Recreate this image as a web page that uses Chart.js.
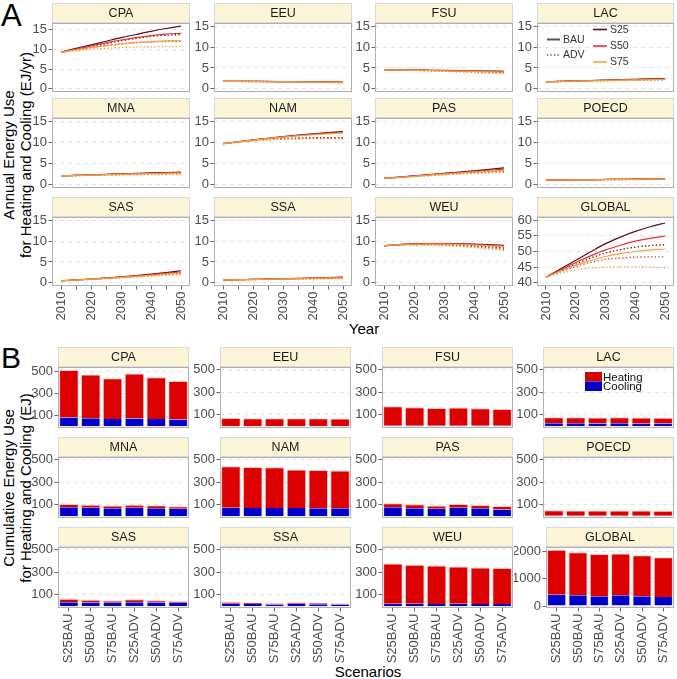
<!DOCTYPE html>
<html><head><meta charset="utf-8">
<script src="https://cdn.jsdelivr.net/npm/chart.js@4.4.0/dist/chart.umd.min.js"></script>
<style>
body{margin:0;background:#fff;width:677px;height:679px;position:relative;overflow:hidden;font-family:"Liberation Sans",Arial,sans-serif;}
canvas{position:absolute;}
.lbl{position:absolute;color:#000;white-space:nowrap;line-height:1;}
.rot{position:absolute;color:#000;white-space:nowrap;text-align:center;font-size:15px;line-height:16.5px;transform:translate(-50%,-50%) rotate(-90deg);}
</style></head><body>
<div class="lbl" style="left:1px;top:0px;font-size:31px;">A</div>
<div class="lbl" style="left:1px;top:343px;font-size:30px;">B</div>
<div class="rot" style="left:16.5px;top:155px;">Annual Energy Use<br>for Heating and Cooling (EJ/yr)</div>
<div class="rot" style="left:16.5px;top:488px;">Cumulative Energy Use<br>for Heating and Cooling (EJ)</div>
<div class="lbl" style="left:364px;top:321px;font-size:15px;transform:translateX(-50%);">Year</div>
<div class="lbl" style="left:368px;top:664px;font-size:15px;transform:translateX(-50%);">Scenarios</div>
<script>
// ---------------- DATA ----------------
const years = [2010, 2015, 2020, 2025, 2030, 2035, 2040, 2045, 2050];
const yearTicks = [2010, 2015, 2020, 2025, 2030, 2035, 2040, 2045, 2050];
const annualTicks = [0, 5, 10, 15];
const annualTicksGlobal = [40, 45, 50, 55, 60];
const scenarios = ['S25BAU', 'S50BAU', 'S75BAU', 'S25ADV', 'S50ADV', 'S75ADV'];
const cumTicks = [100, 300, 500];
const cumTicksGlobal = [0, 1000, 2000];

// Annual energy use (EJ/yr)
const annual_CPA = {
  S25BAU: [9.25, 10.2, 11.1, 12.0, 12.9, 13.7, 14.5, 15.2, 15.8],
  S50BAU: [9.25, 10.0, 10.8, 11.6, 12.3, 12.9, 13.4, 13.8, 14.0],
  S75BAU: [9.25, 9.8, 10.4, 10.9, 11.3, 11.7, 11.9, 12.1, 12.15],
  S25ADV: [9.25, 9.95, 10.7, 11.4, 12.1, 12.7, 13.2, 13.5, 13.7],
  S50ADV: [9.25, 9.8, 10.4, 10.9, 11.3, 11.6, 11.8, 11.95, 12.0],
  S75ADV: [9.25, 9.6, 9.95, 10.2, 10.4, 10.55, 10.6, 10.65, 10.65]
};
const annual_EEU = {
  S25BAU: [1.80, 1.80, 1.79, 1.77, 1.74, 1.71, 1.68, 1.65, 1.62],
  S50BAU: [1.80, 1.79, 1.78, 1.75, 1.72, 1.69, 1.66, 1.62, 1.58],
  S75BAU: [1.80, 1.79, 1.77, 1.74, 1.71, 1.67, 1.63, 1.59, 1.55],
  S25ADV: [1.80, 1.79, 1.77, 1.74, 1.70, 1.66, 1.62, 1.57, 1.53],
  S50ADV: [1.80, 1.78, 1.76, 1.72, 1.68, 1.64, 1.59, 1.54, 1.49],
  S75ADV: [1.80, 1.78, 1.75, 1.71, 1.66, 1.61, 1.56, 1.51, 1.45]
};
const annual_FSU = {
  S25BAU: [4.50, 4.50, 4.48, 4.45, 4.42, 4.38, 4.33, 4.27, 4.20],
  S50BAU: [4.50, 4.49, 4.46, 4.42, 4.37, 4.31, 4.24, 4.17, 4.10],
  S75BAU: [4.50, 4.48, 4.44, 4.39, 4.33, 4.25, 4.17, 4.08, 4.00],
  S25ADV: [4.50, 4.48, 4.44, 4.38, 4.31, 4.23, 4.14, 4.05, 3.95],
  S50ADV: [4.50, 4.47, 4.42, 4.35, 4.26, 4.15, 4.03, 3.91, 3.78],
  S75ADV: [4.50, 4.46, 4.40, 4.31, 4.20, 4.07, 3.92, 3.77, 3.60]
};
const annual_LAC = {
  S25BAU: [1.70, 1.80, 1.90, 2.00, 2.10, 2.19, 2.29, 2.39, 2.48],
  S50BAU: [1.70, 1.79, 1.88, 1.97, 2.06, 2.14, 2.22, 2.30, 2.38],
  S75BAU: [1.70, 1.78, 1.86, 1.94, 2.01, 2.08, 2.15, 2.22, 2.28],
  S25ADV: [1.70, 1.78, 1.86, 1.94, 2.01, 2.08, 2.15, 2.22, 2.29],
  S50ADV: [1.70, 1.77, 1.84, 1.91, 1.97, 2.03, 2.09, 2.15, 2.20],
  S75ADV: [1.70, 1.76, 1.82, 1.88, 1.93, 1.98, 2.03, 2.08, 2.12]
};
const annual_MNA = {
  S25BAU: [2.10, 2.22, 2.34, 2.46, 2.58, 2.69, 2.80, 2.90, 3.00],
  S50BAU: [2.10, 2.21, 2.32, 2.43, 2.53, 2.63, 2.72, 2.81, 2.89],
  S75BAU: [2.10, 2.20, 2.30, 2.39, 2.48, 2.56, 2.63, 2.70, 2.76],
  S25ADV: [2.10, 2.20, 2.29, 2.38, 2.46, 2.54, 2.61, 2.67, 2.72],
  S50ADV: [2.10, 2.19, 2.27, 2.34, 2.41, 2.47, 2.52, 2.56, 2.60],
  S75ADV: [2.10, 2.18, 2.24, 2.29, 2.34, 2.38, 2.41, 2.43, 2.45]
};
const annual_NAM = {
  S25BAU: [9.70, 10.15, 10.58, 10.98, 11.35, 11.70, 12.02, 12.32, 12.60],
  S50BAU: [9.70, 10.14, 10.55, 10.94, 11.30, 11.63, 11.93, 12.20, 12.45],
  S75BAU: [9.70, 10.12, 10.52, 10.89, 11.23, 11.54, 11.80, 12.03, 12.22],
  S25ADV: [9.70, 10.08, 10.42, 10.70, 10.90, 11.02, 11.08, 11.10, 11.10],
  S50ADV: [9.70, 10.06, 10.38, 10.64, 10.82, 10.92, 10.96, 10.97, 10.96],
  S75ADV: [9.70, 10.04, 10.34, 10.58, 10.74, 10.82, 10.84, 10.83, 10.80]
};
const annual_PAS = {
  S25BAU: [1.50, 1.80, 2.10, 2.40, 2.70, 3.00, 3.30, 3.65, 4.00],
  S50BAU: [1.50, 1.78, 2.06, 2.34, 2.62, 2.89, 3.16, 3.43, 3.70],
  S75BAU: [1.50, 1.76, 2.02, 2.28, 2.53, 2.78, 3.02, 3.22, 3.40],
  S25ADV: [1.50, 1.76, 2.02, 2.27, 2.51, 2.74, 2.96, 3.15, 3.32],
  S50ADV: [1.50, 1.74, 1.98, 2.21, 2.43, 2.63, 2.82, 2.98, 3.12],
  S75ADV: [1.50, 1.72, 1.94, 2.15, 2.34, 2.52, 2.67, 2.80, 2.90]
};
const annual_POECD = {
  S25BAU: [1.10, 1.14, 1.18, 1.22, 1.26, 1.30, 1.33, 1.37, 1.40],
  S50BAU: [1.10, 1.14, 1.18, 1.21, 1.25, 1.28, 1.32, 1.35, 1.38],
  S75BAU: [1.10, 1.13, 1.17, 1.20, 1.24, 1.27, 1.30, 1.33, 1.35],
  S25ADV: [1.10, 1.13, 1.17, 1.20, 1.23, 1.26, 1.29, 1.31, 1.33],
  S50ADV: [1.10, 1.13, 1.16, 1.19, 1.22, 1.25, 1.27, 1.29, 1.31],
  S75ADV: [1.10, 1.13, 1.16, 1.19, 1.21, 1.23, 1.25, 1.27, 1.28]
};
const annual_SAS = {
  S25BAU: [0.50, 0.70, 0.92, 1.15, 1.42, 1.72, 2.07, 2.46, 2.90],
  S50BAU: [0.50, 0.69, 0.90, 1.12, 1.36, 1.63, 1.93, 2.25, 2.60],
  S75BAU: [0.50, 0.68, 0.88, 1.09, 1.32, 1.56, 1.82, 2.10, 2.40],
  S25ADV: [0.50, 0.68, 0.88, 1.09, 1.31, 1.55, 1.81, 2.09, 2.40],
  S50ADV: [0.50, 0.67, 0.86, 1.06, 1.27, 1.49, 1.72, 1.96, 2.20],
  S75ADV: [0.50, 0.66, 0.84, 1.03, 1.23, 1.43, 1.63, 1.82, 2.00]
};
const annual_SSA = {
  S25BAU: [0.70, 0.76, 0.83, 0.90, 0.98, 1.06, 1.15, 1.25, 1.35],
  S50BAU: [0.70, 0.76, 0.82, 0.89, 0.96, 1.03, 1.11, 1.19, 1.27],
  S75BAU: [0.70, 0.75, 0.81, 0.87, 0.94, 1.00, 1.07, 1.14, 1.20],
  S25ADV: [0.70, 0.75, 0.81, 0.87, 0.93, 0.99, 1.05, 1.11, 1.17],
  S50ADV: [0.70, 0.75, 0.80, 0.85, 0.90, 0.95, 1.00, 1.05, 1.10],
  S75ADV: [0.70, 0.74, 0.79, 0.83, 0.87, 0.91, 0.95, 0.99, 1.02]
};
const annual_WEU = {
  S25BAU: [8.90, 9.15, 9.30, 9.38, 9.40, 9.36, 9.28, 9.15, 9.00],
  S50BAU: [8.90, 9.13, 9.27, 9.33, 9.33, 9.27, 9.16, 9.00, 8.82],
  S75BAU: [8.90, 9.11, 9.23, 9.28, 9.26, 9.18, 9.05, 8.86, 8.65],
  S25ADV: [8.90, 9.08, 9.17, 9.18, 9.12, 9.00, 8.84, 8.62, 8.35],
  S50ADV: [8.90, 9.06, 9.13, 9.11, 9.02, 8.87, 8.65, 8.38, 8.05],
  S75ADV: [8.90, 9.03, 9.07, 9.02, 8.89, 8.69, 8.43, 8.10, 7.70]
};
const annual_GLOBAL = {
  S25BAU: [41.8, 44.5, 47.2, 49.9, 52.5, 54.6, 56.4, 57.9, 59.1],
  S50BAU: [41.8, 44.2, 46.5, 48.6, 50.5, 52.0, 53.3, 54.2, 54.9],
  S75BAU: [41.8, 43.8, 45.6, 47.1, 48.4, 49.3, 50.0, 50.5, 50.8],
  S25ADV: [41.8, 44.0, 46.0, 47.9, 49.5, 50.6, 51.4, 51.9, 52.2],
  S50ADV: [41.8, 43.6, 45.2, 46.5, 47.5, 47.9, 48.2, 48.3, 48.3],
  S75ADV: [41.8, 43.1, 44.1, 44.7, 45.0, 45.1, 45.1, 45.0, 44.8]
};

// Cumulative energy use (EJ), per scenario: total (heating+cooling) and cooling
const cum_CPA    = { total: [509, 470, 434, 479, 443, 410], cooling: [80, 72, 66, 70, 66, 60] };
const cum_EEU    = { total: [72, 71, 70, 71, 70, 69],       cooling: [1, 1, 1, 1, 1, 1] };
const cum_FSU    = { total: [176, 168, 162, 165, 159, 153], cooling: [3, 3, 3, 3, 3, 3] };
const cum_LAC    = { total: [80, 79, 78, 79, 78, 76],       cooling: [27, 26, 25, 26, 25, 24] };
const cum_MNA    = { total: [108, 101, 95, 102, 96, 88],    cooling: [80, 75, 71, 75, 71, 66] };
const cum_NAM    = { total: [442, 437, 434, 415, 410, 405], cooling: [74, 73, 72, 72, 71, 70] };
const cum_PAS    = { total: [114, 106, 94, 109, 100, 91],   cooling: [80, 71, 66, 74, 71, 60] };
const cum_POECD  = { total: [52, 51, 50, 51, 50, 49],       cooling: [5, 5, 5, 5, 5, 5] };
const cum_SAS    = { total: [66, 58, 50, 61, 53, 46],       cooling: [35, 33, 31, 34, 32, 30] };
const cum_SSA    = { total: [38, 32, 27, 36, 31, 26],       cooling: [22, 19, 16, 21, 18, 15] };
const cum_WEU    = { total: [379, 368, 362, 353, 344, 338], cooling: [22, 21, 20, 21, 20, 19] };
const cum_GLOBAL = { total: [2060, 1975, 1907, 1929, 1857, 1786], cooling: [418, 393, 357, 393, 357, 336] };

// ---------------- STYLE / LAYOUT ----------------
const FONT = '"Liberation Sans", Arial, sans-serif';
Chart.defaults.font.family = FONT;
Chart.defaults.color = '#4d4d4d';
const colors = { S25: '#5e0c1c', S50: '#e0333e', S75: '#f2a33c' };
const HEAT = '#dd0000', COOL = '#0000c8';

const panelPlugin = {
  id: 'panel',
  afterDraw(chart, args, o) {
    const { ctx, chartArea: a } = chart;
    ctx.save();
    const sh = o.stripH;
    ctx.fillStyle = '#fcf4d6';
    ctx.fillRect(a.left, a.top - sh, a.right - a.left, sh);
    ctx.strokeStyle = '#d8d8d8'; ctx.lineWidth = 1;
    ctx.strokeRect(a.left + 0.5, a.top - sh + 0.5, a.right - a.left - 1, sh - 1);
    ctx.fillStyle = '#1a1a1a';
    ctx.font = '12.5px ' + FONT;
    ctx.textAlign = 'center'; ctx.textBaseline = 'middle';
    ctx.fillText(o.title, (a.left + a.right) / 2, a.top - sh / 2 + 1);
    ctx.strokeStyle = '#b0b0b0';
    ctx.strokeRect(a.left + 0.5, a.top + 0.5, a.right - a.left - 1, a.bottom - a.top - 1);
    if (o.legend) { ctx.translate(-o.offX, -o.offY); o.legend(ctx); }
    ctx.restore();
  }
};

function legendLines(ctx) {
  ctx.font = '10.5px ' + FONT; ctx.textAlign = 'left'; ctx.textBaseline = 'middle';
  const line = (x1, x2, y, col, w, dash) => {
    ctx.beginPath(); ctx.setLineDash(dash); ctx.strokeStyle = col; ctx.lineWidth = w;
    ctx.moveTo(x1, y); ctx.lineTo(x2, y); ctx.stroke(); ctx.setLineDash([]);
  };
  line(547, 560, 39.5, '#555', 2, []);
  line(547, 560, 55, '#555', 1.4, [1.3, 2.2]);
  ctx.fillStyle = '#333';
  ctx.fillText('BAU', 563, 40); ctx.fillText('ADV', 563, 55.5);
  line(593, 607, 29.5, colors.S25, 1.6, []);
  line(593, 607, 46, colors.S50, 1.6, []);
  line(593, 607, 62, colors.S75, 1.6, []);
  ctx.fillText('S25', 610, 30); ctx.fillText('S50', 610, 46.5); ctx.fillText('S75', 610, 62.5);
}
function legendBars(ctx) {
  ctx.fillStyle = HEAT; ctx.fillRect(585, 372, 17, 9.5);
  ctx.fillStyle = COOL; ctx.fillRect(585, 381.5, 17, 9.5);
  ctx.font = '11.5px ' + FONT; ctx.textAlign = 'left'; ctx.textBaseline = 'alphabetic';
  ctx.fillStyle = '#111';
  ctx.fillText('Heating', 603, 380.5); ctx.fillText('Cooling', 603, 389.8);
}

function makePanel(cfg) {
  const padL = 2, yW = 32, padR = 22, padB = 14, stripH = 20, padT = stripH + 6;
  const xH = cfg.showX ? cfg.xH : 0;
  const cw = padL + yW + cfg.w + padR;
  const ch = padT + cfg.h + xH + padB;
  const cl = cfg.left - yW - padL, ct = cfg.top - padT;
  const cv = document.createElement('canvas');
  cv.width = cw; cv.height = ch;
  cv.style.left = cl + 'px'; cv.style.top = ct + 'px';
  cv.style.width = cw + 'px'; cv.style.height = ch + 'px';
  document.body.appendChild(cv);
  const tickFont = { size: 13, family: FONT };
  const yScale = {
    type: 'linear', min: cfg.yMin, max: cfg.yMax, stacked: cfg.type === 'bar',
    afterBuildTicks: s => { s.ticks = cfg.yTicks.map(v => ({ value: v })); },
    afterFit: s => { s.width = yW; },
    ticks: { font: tickFont, color: '#4d4d4d', padding: 1.5, autoSkip: false, callback: v => String(v) },
    grid: { color: '#e2e2e2', tickColor: '#666', tickLength: 3.5, lineWidth: 1 },
    border: { display: false, dash: [4, 4] }
  };
  let xScale;
  if (cfg.type === 'line') {
    xScale = {
      type: 'linear', min: 2007, max: 2053, display: !!cfg.showX,
      afterBuildTicks: s => { s.ticks = yearTicks.map(v => ({ value: v })); },
      afterFit: s => { s.height = xH; },
      ticks: { font: tickFont, color: '#4d4d4d', minRotation: 90, maxRotation: 90, autoSkip: false, padding: 2,
               callback: v => (v % 10 === 0 ? String(v) : '') },
      grid: { drawOnChartArea: false, tickColor: '#666', tickLength: 3.5 },
      border: { display: false }
    };
  } else {
    xScale = {
      type: 'category', stacked: true, display: !!cfg.showX, offset: true,
      afterFit: s => { s.height = xH; },
      ticks: { font: tickFont, color: '#4d4d4d', minRotation: 90, maxRotation: 90, autoSkip: false, padding: 2 },
      grid: { drawOnChartArea: false, offset: false, tickColor: '#666', tickLength: 3.5 },
      border: { display: false }
    };
  }
  let data;
  if (cfg.type === 'line') {
    const order = [['S75', 'BAU'], ['S75', 'ADV'], ['S50', 'BAU'], ['S50', 'ADV'], ['S25', 'BAU'], ['S25', 'ADV']];
    data = {
      datasets: order.map(([s, m]) => ({
        label: s + m,
        data: years.map((yr, i) => ({ x: yr, y: cfg.series[s + m][i] })),
        borderColor: colors[s], borderWidth: m === 'BAU' ? 1.2 : 1.4,
        borderDash: m === 'ADV' ? [1.3, 2.3] : [],
        pointRadius: 0, fill: false, cubicInterpolationMode: 'monotone'
      }))
    };
  } else {
    data = {
      labels: scenarios,
      datasets: [
        { label: 'Cooling', data: cfg.series.cooling, backgroundColor: COOL,
          borderColor: 'rgba(215,215,255,0.9)', borderWidth: { left: 1, right: 1, top: 0, bottom: 0 }, borderSkipped: false,
          barPercentage: 0.9, categoryPercentage: 1 },
        { label: 'Heating', data: cfg.series.total.map((t, i) => t - cfg.series.cooling[i]), backgroundColor: HEAT,
          borderColor: 'rgba(255,195,195,0.95)', borderWidth: { left: 1, right: 1, top: 1, bottom: 0 }, borderSkipped: false,
          barPercentage: 0.9, categoryPercentage: 1 }
      ]
    };
  }
  new Chart(cv, {
    type: cfg.type, data,
    options: {
      responsive: false, animation: false, events: [],
      layout: { padding: { left: padL, right: padR, top: padT, bottom: padB } },
      plugins: { legend: { display: false }, tooltip: { enabled: false },
                 panel: { title: cfg.title, stripH, legend: cfg.legend, offX: cl, offY: ct } },
      scales: { x: xScale, y: yScale }
    },
    plugins: [panelPlugin]
  });
}

const grid = [['CPA', 'EEU', 'FSU', 'LAC'], ['MNA', 'NAM', 'PAS', 'POECD'], ['SAS', 'SSA', 'WEU', 'GLOBAL']];
const annualByRegion = { CPA: annual_CPA, EEU: annual_EEU, FSU: annual_FSU, LAC: annual_LAC, MNA: annual_MNA, NAM: annual_NAM,
  PAS: annual_PAS, POECD: annual_POECD, SAS: annual_SAS, SSA: annual_SSA, WEU: annual_WEU, GLOBAL: annual_GLOBAL };
const cumByRegion = { CPA: cum_CPA, EEU: cum_EEU, FSU: cum_FSU, LAC: cum_LAC, MNA: cum_MNA, NAM: cum_NAM,
  PAS: cum_PAS, POECD: cum_POECD, SAS: cum_SAS, SSA: cum_SSA, WEU: cum_WEU, GLOBAL: cum_GLOBAL };

const rowsA = [{ top: 23, h: 69 }, { top: 118, h: 70 }, { top: 217, h: 69 }];
const colsA = [{ left: 52, w: 138 }, { left: 214, w: 138 }, { left: 375, w: 138 }, { left: 537, w: 137 }];
const rowsB = [{ top: 367, h: 61 }, { top: 457, h: 61 }, { top: 547, h: 61 }];
const colsB = [{ left: 58, w: 131 }, { left: 220, w: 131 }, { left: 382, w: 131 }, { left: 543, w: 131 }];

grid.forEach((row, r) => row.forEach((reg, c) => {
  let yMin = -0.75, yMax = 15.75, yTicks = annualTicks;
  if (reg === 'CPA') { yMin = -0.79; yMax = 16.59; }
  if (reg === 'GLOBAL') { yMin = 39; yMax = 61; yTicks = annualTicksGlobal; }
  makePanel({ type: 'line', title: reg, left: colsA[c].left, w: colsA[c].w, top: rowsA[r].top, h: rowsA[r].h,
    showX: r === 2, xH: 38, yMin, yMax, yTicks, series: annualByRegion[reg],
    legend: reg === 'LAC' ? legendLines : null });
}));

grid.forEach((row, r) => row.forEach((reg, c) => {
  let yMin = -16, yMax = 525, yTicks = cumTicks, left = colsB[c].left, w = colsB[c].w;
  if (reg === 'CPA') { yMax = 537; }
  if (reg === 'GLOBAL') { yMin = -70; yMax = 2163; yTicks = cumTicksGlobal; left = 546; w = 128; }
  makePanel({ type: 'bar', title: reg, left, w, top: rowsB[r].top, h: rowsB[r].h,
    showX: r === 2, xH: 58, yMin, yMax, yTicks, series: cumByRegion[reg],
    legend: reg === 'LAC' ? legendBars : null });
}));
</script>
</body></html>
